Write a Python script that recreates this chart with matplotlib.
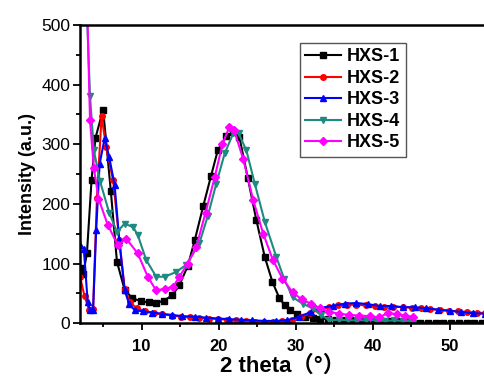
import matplotlib
matplotlib.use("Agg")
import matplotlib.pyplot as plt
from matplotlib.ticker import MultipleLocator

plt.rcParams['font.family'] = ['Liberation Sans', 'Noto Sans CJK SC', 'DejaVu Sans']

# --- data ---
labels = ["HXS-1", "HXS-2", "HXS-3", "HXS-4", "HXS-5"]

x1 = [2.0, 2.4, 2.9, 3.5, 4.0, 5.0, 6.0, 6.8, 7.8, 8.8, 9.9, 10.9, 11.9, 12.9, 14.0, 14.9,
      16.0, 16.9, 18.0, 19.0, 19.9, 21.0, 21.9, 22.7, 23.8, 24.9, 26.0, 27.0, 27.9, 28.6,
      29.3, 30.2, 31.2, 32.2, 33.2, 34.2, 35.2, 36.2, 37.2, 38.2, 39.2, 40.2, 41.2, 42.2,
      43.2, 44.2, 45.2, 46.2, 47.2, 48.2, 49.2, 50.2, 51.2, 52.2, 53.2, 54.2]
y1 = [92, 82, 117, 240, 310, 358, 222, 103, 56, 42, 37, 35, 34, 38, 47, 64,
      96, 139, 196, 246, 290, 313, 320, 312, 243, 173, 111, 69, 42, 30,
      22, 15, 11, 9, 8, 7, 6, 6, 5, 5, 5, 5, 4, 4,
      4, 4, 1, 1, 1, 1, 1, 1, 1, 1, 1, 1]

x2 = [2.0, 2.6, 3.2, 3.7, 4.2, 4.8, 5.4, 6.3, 7.1, 7.8, 8.5, 9.4, 10.5, 11.6, 12.7, 13.9,
      15.1, 16.3, 17.5, 18.7, 19.9, 21.1, 22.3, 23.5, 24.7, 25.9, 27.1, 28.3, 29.5, 30.7,
      31.9, 33.1, 34.3, 35.5, 36.7, 37.9, 39.1, 40.3, 41.5, 42.7, 43.9, 45.1, 46.3, 47.5,
      48.7, 49.9, 51.1, 52.3, 53.5, 54.6]
y2 = [78, 45, 22, 24, 210, 347, 295, 240, 140, 58, 35, 25, 20, 17, 15, 13,
      11, 10, 9, 8, 7, 6, 5, 4, 3, 3, 3, 4, 6, 10,
      17, 23, 27, 30, 31, 31, 30, 29, 28, 28, 27, 26, 25, 24,
      22, 21, 20, 19, 18, 17]

x3 = [2.0, 2.5, 3.0, 3.3, 3.7, 4.1, 4.55, 5.2, 5.8, 6.5, 7.1, 7.8, 8.4, 9.1, 10.2, 11.4,
      12.6, 13.9, 15.3, 16.9, 18.4, 19.9, 21.4, 22.9, 24.4, 25.9, 27.4, 28.9, 30.5, 32.0,
      33.3, 34.8, 36.4, 37.9, 39.4, 40.9, 42.4, 43.9, 45.5, 47.0, 48.5, 50.0, 51.5, 53.0,
      54.6]
y3 = [131, 125, 35, 22, 22, 156, 267, 310, 278, 231, 139, 55, 32, 22, 20, 18,
      16, 14, 12, 11, 9.5, 8, 7, 6, 5, 4, 4, 5, 11, 19,
      26, 29, 33, 34, 32, 29, 29, 27, 27, 25, 23, 21, 19, 17,
      16]

x4 = [2.9, 3.3, 3.8, 4.6, 5.8, 6.8, 7.8, 8.9, 9.5, 10.6, 11.9, 13.0, 14.5, 15.8, 17.5,
      18.6, 19.7, 20.8, 21.9, 22.6, 23.6, 24.7, 26.0, 27.5, 28.5, 29.6, 30.9, 32.2, 33.3,
      34.4, 35.6, 36.8, 38.0, 39.2, 40.4, 41.6, 42.8, 44.0, 45.0, 45.2]
y4 = [520, 380, 290, 238, 185, 153, 167, 161, 148, 106, 78, 78, 86, 98, 134,
      180, 234, 285, 318, 318, 290, 234, 170, 111, 75, 44, 33, 25, 14,
      5, 6, 5, 5, 5, 5, 4, 5, 4, 4, 0]

x5 = [2.95, 3.3, 3.8, 4.4, 5.6, 6.9, 8.0, 9.5, 10.8, 11.9, 13.0, 14.1, 14.9, 16.0, 17.1,
      18.3, 19.5, 20.5, 21.4, 22.0, 23.2, 24.5, 25.8, 27.05, 28.3, 29.6, 30.8, 32.0, 33.2,
      34.4, 35.7, 37.0, 38.3, 39.6, 40.8, 42.0, 43.2, 44.2, 45.2]
y5 = [520, 340, 260, 209, 165, 131, 142, 117, 78, 55, 58, 61, 78, 100, 128,
      185, 245, 300, 329, 324, 275, 206, 150, 106, 75, 52, 40, 33, 25,
      19, 16, 14, 13, 12, 10, 17, 15, 13, 11]

xs = [x1, x2, x3, x4, x5]
ys = [y1, y2, y3, y4, y5]
colors = ["#000000", "#ff0000", "#0000ff", "#1f8a80", "#ff00ff"]
markers = ["s", "o", "^", "v", "D"]
msizes = [4, 4, 4.5, 4.5, 3.8]

fig = plt.figure(figsize=(4.85, 3.76), dpi=100)
ax = fig.add_axes([80 / 485, 1 - 323.3 / 376, 405 / 485, 298.5 / 376])

for x, y, c, m, ms, lab in zip(xs, ys, colors, markers, msizes, labels):
    ax.plot(x, y, color=c, marker=m, markersize=ms, lw=1.5, label=lab)

ax.set_xlim(2, 54.6)
ax.set_ylim(0, 500)
ax.xaxis.set_major_locator(MultipleLocator(10))
ax.xaxis.set_minor_locator(MultipleLocator(5))
ax.yaxis.set_major_locator(MultipleLocator(100))
ax.yaxis.set_minor_locator(MultipleLocator(50))
ax.tick_params(which='both', direction='out', width=1.3)
ax.tick_params(which='major', length=5)
ax.tick_params(which='minor', length=3)
ax.tick_params(axis='y', labelsize=12.5, pad=2)
ax.tick_params(axis='x', labelsize=12, pad=6)
for t in ax.get_xticklabels():
    t.set_fontweight('bold')

for s in ['left', 'bottom', 'top']:
    ax.spines[s].set_linewidth(1.8)
ax.spines['right'].set_visible(False)

ax.set_ylabel("Intensity (a.u.)", fontsize=13, fontweight='bold', labelpad=4)
ax.set_xlabel("2 theta（°）", fontsize=16, fontweight='bold', labelpad=1)

leg = ax.legend(loc='upper left', bbox_to_anchor=(0.543, 0.939), borderaxespad=0,
                fancybox=False, edgecolor='#555555', framealpha=1,
                prop={'weight': 'bold', 'size': 13}, handlelength=2.0,
                handletextpad=0.3, labelspacing=0.25, borderpad=0.3)
leg.get_frame().set_linewidth(1.0)

fig.savefig("out.png", dpi=100)
